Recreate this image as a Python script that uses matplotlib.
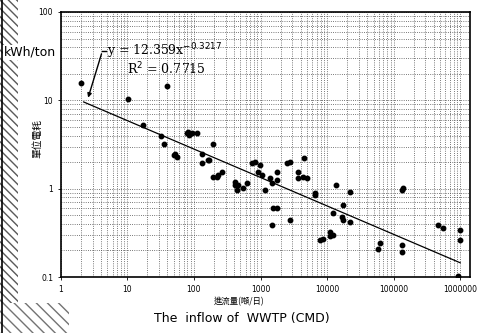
import numpy as np
import matplotlib
matplotlib.use("Agg")
import matplotlib.pyplot as plt
import matplotlib.patches as mpatches
from matplotlib.ticker import LogLocator, NullFormatter, FixedLocator

plt.rcParams['font.family'] = ['DejaVu Sans', 'Noto Sans CJK TC']

# inflow (CMD) vs unit energy use (kWh/ton)
inflow = [2.0, 10.2, 40, 17, 32, 36, 50, 55, 52, 81, 85, 132, 170, 195,
          78, 95, 110, 160, 131, 263, 220, 415, 460, 545, 445, 620, 740, 820,
          980, 915, 1050, 1380, 1480, 1160, 1770, 1770, 2500, 2770, 3700, 3700,
          4300, 5000, 6600, 4500, 13700, 22000, 135000, 17400, 12400, 16600,
          17400, 22000, 12400, 11000, 8700, 63000, 58000, 135000, 135000,
          550000, 470000, 1000000, 1000000, 940000, 230, 195, 410, 1530, 1770,
          2800, 1480, 6600, 11000, 7700, 140000]
energy = [15.9, 10.3, 14.4, 5.3, 4.0, 3.2, 2.4, 2.3, 2.5, 4.4, 4.1, 2.5, 2.1, 3.2,
          4.3, 4.3, 4.3, 2.1, 1.97, 1.56, 1.37, 1.2, 1.11, 1.03, 0.97, 1.17, 1.97, 2.0,
          1.87, 1.56, 1.44, 1.33, 1.17, 0.97, 1.56, 1.27, 1.97, 2.0, 1.56, 1.33,
          1.37, 1.33, 0.9, 2.2, 1.11, 0.92, 0.97, 0.66, 0.53, 0.48,
          0.44, 0.42, 0.30, 0.29, 0.27, 0.24, 0.21, 0.23, 0.19,
          0.36, 0.39, 0.26, 0.34, 0.103, 1.44, 1.37, 1.1, 0.61, 0.61,
          0.44, 0.39, 0.85, 0.32, 0.26, 1.02]

# power-law fit shown on the chart
fit_a = 12.359
fit_b = -0.3217
fit_r2 = 0.7715

fig = plt.figure(figsize=(4.79, 3.33), dpi=100)

# scanned hatch band on the left edge
fig.patches.append(mpatches.Rectangle((0, 0), 0.038, 1, transform=fig.transFigure,
                                      facecolor='white', edgecolor='0.35', hatch='\\\\\\\\',
                                      lw=0, zorder=0))
fig.patches.append(mpatches.Rectangle((0, 0), 0.145, 0.09, transform=fig.transFigure,
                                      facecolor='white', edgecolor='0.45', hatch='\\\\\\',
                                      lw=0, zorder=0))
fig.add_artist(plt.Line2D([0.004, 0.004], [0, 1], transform=fig.transFigure, color='black', lw=1.2))

ax = fig.add_axes([0.127, 0.168, 0.854, 0.796])
ax.set_xscale('log')
ax.set_yscale('log')
ax.set_xlim(1, 1.4e6)
ax.set_ylim(0.1, 100)

ax.grid(True, which='both', linestyle=':', color='0.3', lw=0.6)
ax.set_axisbelow(True)

ax.plot(inflow, energy, 'o', color='black', ms=3.2, zorder=3)

xf = np.array([2.2, 1.0e6])
ax.plot(xf, fit_a * xf ** fit_b, color='black', lw=0.9, zorder=2)

ax.xaxis.set_major_locator(FixedLocator([1, 10, 100, 1000, 10000, 100000, 1000000]))
ax.set_xticklabels(['1', '10', '100', '1000', '10000', '100000', '1000000'])
ax.xaxis.set_minor_locator(LogLocator(base=10, subs=np.arange(2, 10)))
ax.xaxis.set_minor_formatter(NullFormatter())
ax.yaxis.set_major_locator(FixedLocator([0.1, 1, 10, 100]))
ax.set_yticklabels(['0.1', '1', '10', '100'])
ax.yaxis.set_minor_formatter(NullFormatter())
ax.tick_params(labelsize=5.5, length=2, width=0.6)
ax.tick_params(which='minor', length=0)
for s in ax.spines.values():
    s.set_linewidth(1.2)

# equation annotation with leader line
ax.annotate('', xy=(2.5, 10.0), xytext=(4.2, 36),
            arrowprops=dict(arrowstyle='-|>', color='black', lw=1.0, mutation_scale=6))
ax.plot([4.2, 4.8], [36, 36], color='black', lw=1.0)
ax.text(4.9, 36, 'y = %.3fx$^{%.4f}$' % (fit_a, fit_b), fontsize=9, family='serif',
        va='center', ha='left')
ax.text(10.0, 22.5, 'R$^2$ = %.4f' % fit_r2, fontsize=9, family='serif', va='center', ha='left')

fig.text(0.008, 0.843, 'kWh/ton', fontsize=9, va='center', ha='left',
         bbox=dict(facecolor='white', edgecolor='none', pad=0.5))
fig.text(0.078, 0.585, '單位電耗', fontsize=7, rotation=90, va='center', ha='center',
         family=['Noto Sans CJK TC', 'DejaVu Sans'])
fig.text(0.5, 0.095, '進流量(噸/日)', fontsize=6, va='center', ha='center',
         family=['Noto Sans CJK TC', 'DejaVu Sans'])
fig.text(0.505, 0.043, 'The  inflow of  WWTP (CMD)', fontsize=9, va='center', ha='center')

fig.savefig('out.png', dpi=100)
